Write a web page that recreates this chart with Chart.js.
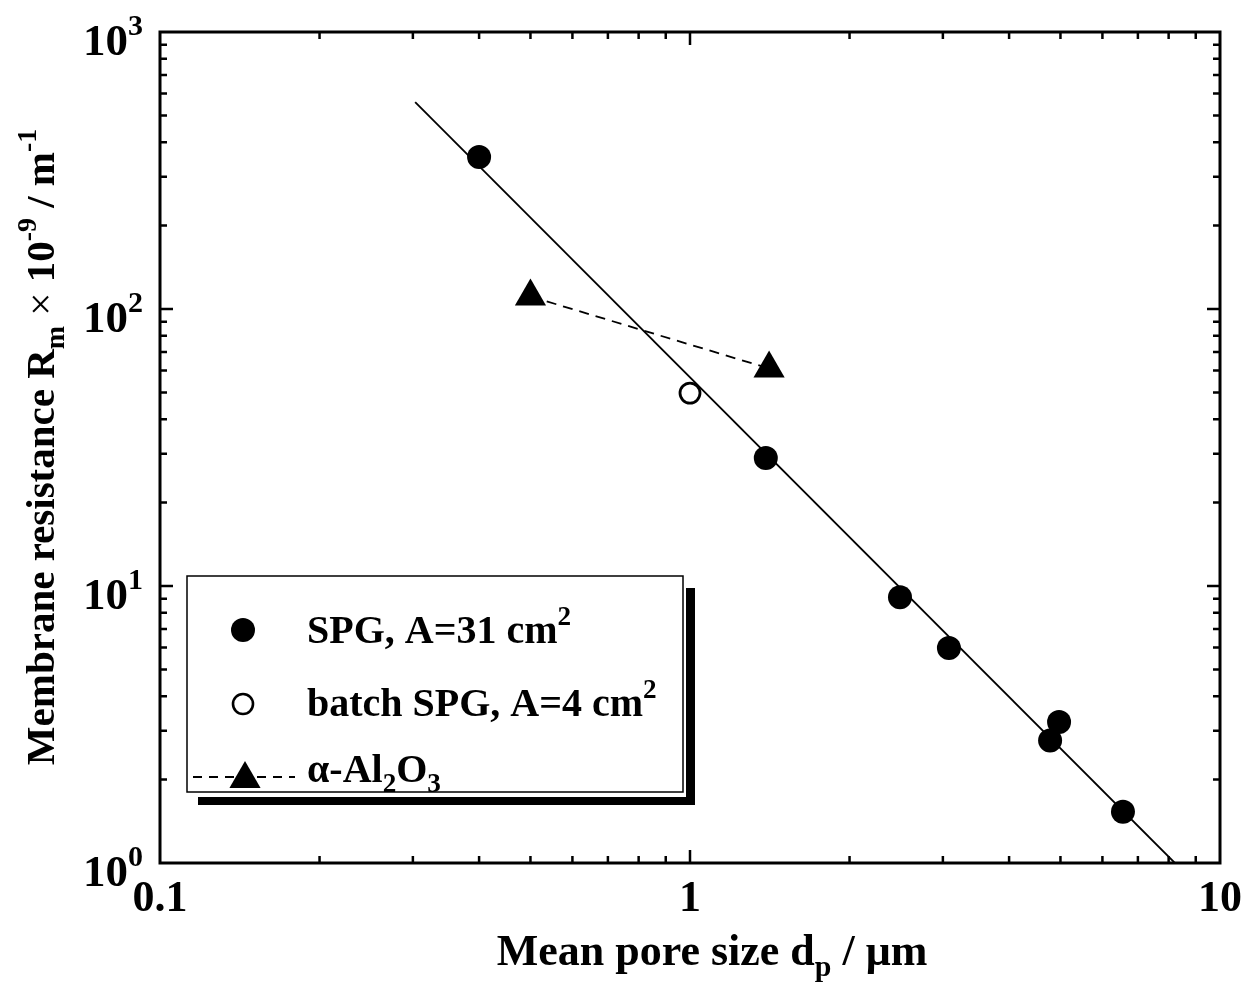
<!DOCTYPE html>
<html><head><meta charset="utf-8">
<script src="https://cdn.jsdelivr.net/npm/chart.js@4/dist/chart.umd.min.js"></script>
<style>html,body{margin:0;padding:0;background:#fff}#wrap{width:1256px;height:994px}</style>
</head><body><div id="wrap"><canvas id="c" width="1256" height="994"></canvas></div>
<script>
// ---- data ----
const spgX = [0.4, 1.39, 2.49, 3.08, 4.97, 4.78, 6.56];
const spgY = [354, 29, 9.1, 5.97, 3.23, 2.77, 1.53];
const batchX = [1.0];
const batchY = [49.7];
const aluX = [0.5, 1.41];
const aluY = [111, 61];
const fitX = [0.303, 8.22];
const fitY = [558, 1];
const xTickValues = [0.1, 1, 10];
const xTickLabels = ['0.1', '1', '10'];
const yTickValues = [1, 10, 100, 1000];
const yTickExponents = ['0', '1', '2', '3'];
const legendLabels = ['SPG, A=31 cm', 'batch SPG, A=4 cm', 'α-Al'];

const FONT = '"Liberation Serif", "Times New Roman", serif';
function f(size){ return 'bold ' + size + 'px ' + FONT; }
function pts(xs, ys){ return xs.map((x,i)=>({x:x, y:ys[i]})); }

function segSize(s, size){ return (s.sup||s.sub) ? size*0.68 : size; }
function segFont(s, size){ const sz = segSize(s,size); return s.normal ? (sz+'px '+FONT) : f(sz); }
function richWidth(ctx, segs, size){
  let w = 0;
  for (const s of segs){ ctx.font = segFont(s,size); w += ctx.measureText(s.t).width; }
  return w;
}
function drawRich(ctx, segs, x, y, size, align){
  const w = richWidth(ctx, segs, size);
  let cx = align === 'center' ? x - w/2 : (align === 'right' ? x - w : x);
  ctx.textAlign = 'left'; ctx.textBaseline = 'alphabetic';
  for (const s of segs){
    ctx.font = segFont(s,size);
    const dy = s.sup ? -size*0.45 : (s.sub ? size*0.25 : 0);
    ctx.fillText(s.t, cx, y + dy);
    cx += ctx.measureText(s.t).width;
  }
}

const decor = {
  id: 'decor',
  afterDatasetsDraw(chart){
    const ctx = chart.ctx, a = chart.chartArea;
    const xs = chart.scales.x, ys = chart.scales.y;
    ctx.save();
    ctx.fillStyle = '#000'; ctx.strokeStyle = '#000';
    // frame
    ctx.lineWidth = 3;
    ctx.strokeRect(a.left, a.top, a.right - a.left, a.bottom - a.top);
    // ticks
    ctx.lineWidth = 2.5;
    for (let d = -1; d < 1; d++){
      for (let k = 1; k <= 9; k++){
        if (k === 1 && d === -1) continue;
        const px = xs.getPixelForValue(k * Math.pow(10, d));
        const len = k === 1 ? 13 : 7;
        ctx.beginPath();
        ctx.moveTo(px, a.bottom); ctx.lineTo(px, a.bottom - len);
        ctx.moveTo(px, a.top); ctx.lineTo(px, a.top + len);
        ctx.stroke();
      }
    }
    for (let d = 0; d < 3; d++){
      for (let k = 1; k <= 9; k++){
        if (k === 1 && d === 0) continue;
        const py = ys.getPixelForValue(k * Math.pow(10, d));
        const len = k === 1 ? 13 : 7;
        ctx.beginPath();
        ctx.moveTo(a.left, py); ctx.lineTo(a.left + len, py);
        ctx.moveTo(a.right, py); ctx.lineTo(a.right - len, py);
        ctx.stroke();
      }
    }
    // x tick labels
    ctx.font = f(44); ctx.textAlign = 'center'; ctx.textBaseline = 'alphabetic';
    xTickValues.forEach((v,i)=>{ ctx.fillText(xTickLabels[i], xs.getPixelForValue(v), a.bottom + 48); });
    // y tick labels
    yTickValues.forEach((v,i)=>{
      const py = ys.getPixelForValue(v);
      ctx.font = f(30); ctx.textAlign = 'left';
      ctx.fillText(yTickExponents[i], 128, py + 3);
      ctx.font = f(45); ctx.textAlign = 'right';
      ctx.fillText('10', 128, py + 23);
    });
    // x title
    drawRich(ctx, [{t:'Mean pore size d'},{t:'p',sub:true},{t:' / μm'}], (a.left+a.right)/2 + 22, 965, 44, 'center');
    // y title
    ctx.save();
    ctx.translate(54, 447);
    ctx.rotate(-Math.PI/2);
    drawRich(ctx, [{t:'Membrane resistance R'},{t:'m',sub:true},{t:' × ',normal:true},{t:'10'},{t:'-9',sup:true},{t:' / m'},{t:'-1',sup:true}], 0, 0, 41, 'center');
    ctx.restore();

    // legend box with shadow
    ctx.fillRect(686, 588, 9, 217);
    ctx.fillRect(198, 797, 497, 8);
    ctx.fillStyle = '#fff';
    ctx.fillRect(187, 576, 496, 216);
    ctx.fillStyle = '#000';
    ctx.lineWidth = 1.5;
    ctx.strokeRect(187, 576, 496, 216);
    // legend symbols
    ctx.beginPath(); ctx.arc(243, 630, 12, 0, Math.PI*2); ctx.fill();
    ctx.beginPath(); ctx.arc(243, 704, 10, 0, Math.PI*2); ctx.fillStyle='#fff'; ctx.fill(); ctx.fillStyle='#000';
    ctx.lineWidth = 2.6; ctx.stroke();
    ctx.lineWidth = 1.8; ctx.setLineDash([9,7]);
    ctx.beginPath(); ctx.moveTo(193, 777); ctx.lineTo(295, 777); ctx.stroke();
    ctx.setLineDash([]);
    const tr = 18, tcx = 245, tcy = 779;
    ctx.beginPath();
    ctx.moveTo(tcx, tcy - tr);
    ctx.lineTo(tcx + tr*Math.sin(2*Math.PI/3), tcy - tr*Math.cos(2*Math.PI/3));
    ctx.lineTo(tcx - tr*Math.sin(2*Math.PI/3), tcy - tr*Math.cos(2*Math.PI/3));
    ctx.closePath(); ctx.fill();
    // legend texts
    drawRich(ctx, [{t:legendLabels[0]},{t:'2',sup:true}], 307, 643, 40, 'left');
    drawRich(ctx, [{t:legendLabels[1]},{t:'2',sup:true}], 307, 716, 40, 'left');
    drawRich(ctx, [{t:'α-Al'},{t:'2',sub:true},{t:'O'},{t:'3',sub:true}], 307, 782, 40, 'left');
    ctx.restore();
  }
};

new Chart(document.getElementById('c'), {
  data: {
    datasets: [
      { type:'line', label:'fit', data: pts(fitX, fitY), borderColor:'#000', borderWidth:1.8, pointRadius:0, fill:false, tension:0 },
      { type:'line', label:'α-Al2O3', data: pts(aluX, aluY), borderColor:'#000', borderWidth:1.8, borderDash:[10,7], pointStyle:'triangle', pointRadius:18, pointBackgroundColor:'#000', pointBorderWidth:0, fill:false, tension:0 },
      { type:'scatter', label:'batch SPG', data: pts(batchX, batchY), pointStyle:'circle', pointRadius:10, pointBackgroundColor:'#fff', pointBorderColor:'#000', pointBorderWidth:2.8 },
      { type:'scatter', label:'SPG', data: pts(spgX, spgY), pointStyle:'circle', pointRadius:12, pointBackgroundColor:'#000', pointBorderColor:'#000', pointBorderWidth:0 }
    ]
  },
  options: {
    responsive:false, animation:false, devicePixelRatio:1,
    layout:{ padding:{ left:160, top:32, right:36, bottom:131 } },
    plugins:{ legend:{display:false}, tooltip:{enabled:false} },
    scales:{
      x:{ type:'logarithmic', min:0.1, max:10, display:false },
      y:{ type:'logarithmic', min:1, max:1000, display:false }
    }
  },
  plugins:[decor]
});
</script></body></html>
